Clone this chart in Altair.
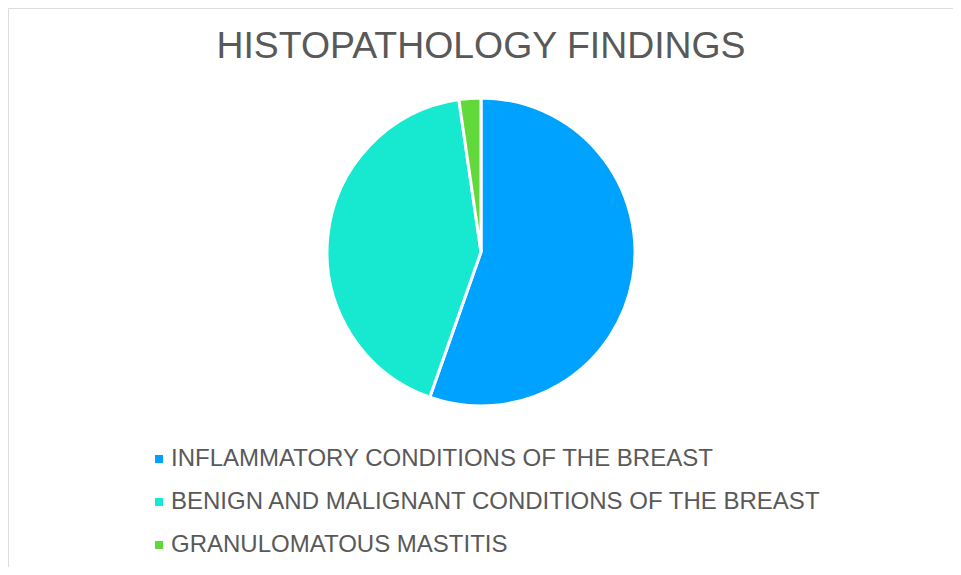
import altair as alt
import pandas as pd

categories = [
    "INFLAMMATORY CONDITIONS OF THE BREAST",
    "BENIGN AND MALIGNANT CONDITIONS OF THE BREAST",
    "GRANULOMATOUS MASTITIS",
]
values = [55.4, 42.3, 2.3]
colors = ["#00A2FF", "#17E8D0", "#62D93A"]
title_text = "HISTOPATHOLOGY FINDINGS"

df = pd.DataFrame({"category": categories, "value": values, "order": list(range(len(categories)))})

FONT = "Liberation Sans"
GRAY = "#595959"

pie = alt.Chart(df).mark_arc(outerRadius=154, stroke="white", strokeWidth=3).encode(
    theta=alt.Theta("value:Q", stack=True),
    order=alt.Order("order:Q"),
    color=alt.Color(
        "category:N",
        scale=alt.Scale(domain=categories, range=colors),
        sort=categories,
        legend=alt.Legend(
            title=None,
            orient="none",
            legendX=139,
            legendY=439,
            symbolType="square",
            symbolSize=64,
            symbolStrokeWidth=0,
            labelFont=FONT,
            labelFontSize=24,
            labelColor=GRAY,
            labelLimit=800,
            rowPadding=19,
            labelOffset=0,
        ),
    ),
    x=alt.value(473),
    y=alt.value(244),
)

title = alt.Chart(pd.DataFrame({"t": [title_text]})).mark_text(
    font=FONT, fontSize=37.4, color=GRAY, baseline="alphabetic", align="center"
).encode(text="t:N", x=alt.value(473), y=alt.value(50))

chart = alt.layer(pie, title).properties(
    width=945, height=559, padding=0, autosize=alt.AutoSizeParams(type="none")
).configure_view(stroke=None).configure(background="white")

chart.save("out.html", embed_options={"renderer": "svg", "actions": False})
